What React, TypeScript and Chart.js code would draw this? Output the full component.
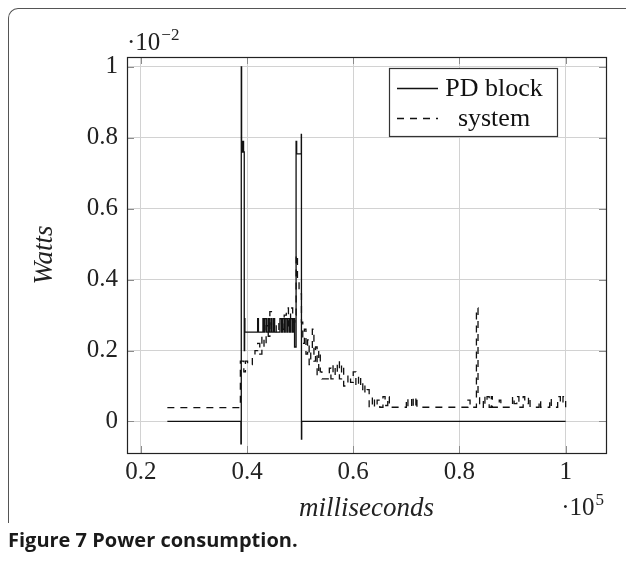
import React, { useEffect, useRef } from 'react';
import { Chart, registerables } from 'chart.js';

Chart.register(...registerables);

// x in units of 10^5 ms, y in units of 10^-2 W
const pdBlock: [number, number][] = [
  [0.25, 0], [0.3885, -0.063], [0.3892, 1.0], [0.3898, 0.79], [0.3905, 0.76], [0.3912, 0.79],
  [0.3918, 0.76], [0.3925, 0.79], [0.3935, 0.76], [0.3948, 0.2], [0.3955, 0.29], [0.396, 0.252],
  [0.42, 0.29], [0.4215, 0.252], [0.43, 0.29], [0.432, 0.252], [0.434, 0.29], [0.437, 0.252],
  [0.44, 0.29], [0.442, 0.252], [0.445, 0.29], [0.447, 0.252], [0.45, 0.29], [0.452, 0.252],
  [0.462, 0.29], [0.465, 0.252], [0.467, 0.29], [0.47, 0.252], [0.472, 0.29], [0.475, 0.252],
  [0.477, 0.29], [0.48, 0.252], [0.482, 0.29], [0.485, 0.252], [0.487, 0.29], [0.4895, 0.21],
  [0.4924, 0.79], [0.4935, 0.755], [0.5022, 0.81], [0.5025, -0.05], [0.503, 0], [1.0, 0],
];

const systemPower: [number, number][] = [
  [0.25, 0.039], [0.3875, 0.17], [0.394, 0.14], [0.397, 0.17], [0.401, 0.16], [0.41, 0.18],
  [0.415, 0.2], [0.42, 0.22], [0.424, 0.19], [0.428, 0.24], [0.432, 0.21], [0.436, 0.27],
  [0.44, 0.24], [0.443, 0.31], [0.446, 0.26], [0.45, 0.28], [0.455, 0.25], [0.46, 0.29],
  [0.465, 0.26], [0.47, 0.3], [0.474, 0.32], [0.478, 0.27], [0.482, 0.32], [0.486, 0.28],
  [0.49, 0.3], [0.4925, 0.47], [0.495, 0.4], [0.498, 0.36], [0.5025, 0.28], [0.505, 0.22],
  [0.508, 0.26], [0.511, 0.19], [0.514, 0.23], [0.517, 0.16], [0.52, 0.2], [0.523, 0.26],
  [0.526, 0.17], [0.529, 0.21], [0.532, 0.13], [0.535, 0.2], [0.538, 0.14], [0.541, 0.12],
  [0.555, 0.15], [0.558, 0.12], [0.562, 0.16], [0.566, 0.13], [0.57, 0.17], [0.574, 0.12],
  [0.578, 0.16], [0.582, 0.1], [0.59, 0.13], [0.595, 0.11], [0.6, 0.14], [0.605, 0.1],
  [0.61, 0.13], [0.614, 0.09], [0.618, 0.11], [0.622, 0.08], [0.626, 0.09], [0.63, 0.04],
  [0.636, 0.07], [0.64, 0.04], [0.645, 0.06], [0.65, 0.04], [0.656, 0.07], [0.66, 0.045],
  [0.665, 0.07], [0.668, 0.04], [0.7, 0.065], [0.703, 0.04], [0.71, 0.07], [0.713, 0.04],
  [0.718, 0.07], [0.72, 0.04], [0.816, 0.06], [0.82, 0.04], [0.832, 0.32], [0.835, 0.08],
  [0.838, 0.04], [0.845, 0.07], [0.848, 0.05], [0.852, 0.07], [0.856, 0.04], [0.86, 0.07],
  [0.862, 0.04], [0.875, 0.06], [0.878, 0.04], [0.9, 0.07], [0.903, 0.05], [0.908, 0.07],
  [0.912, 0.04], [0.92, 0.07], [0.923, 0.05], [0.93, 0.07], [0.933, 0.04], [0.95, 0.06],
  [0.953, 0.04], [0.97, 0.065], [0.973, 0.04], [0.985, 0.07], [0.99, 0.05], [0.995, 0.07],
  [1.0, 0.04],
];

const seriesLabels = ['PD block', 'system'];
const xTicks = [0.2, 0.4, 0.6, 0.8, 1];
const yTicks = [0, 0.2, 0.4, 0.6, 0.8, 1];
const xRange = [0.174, 1.076];
const yRange = [-0.089, 1.028];
const xTitle = 'milliseconds';
const yTitle = 'Watts';
const xExponent = '5';
const yExponent = '−2';
const captionLabel = 'Figure 7';
const captionText = 'Power consumption.';

const SERIF = '"Liberation Serif", "Times New Roman", serif';

const fmt = (v: number) => String(Number(v.toFixed(3)));

const decorPlugin = {
  id: 'decor',
  afterDraw(chart: any) {
    const { ctx, chartArea: a, scales } = chart;
    ctx.save();
    // inner tick marks
    ctx.strokeStyle = '#8c8c8c';
    ctx.lineWidth = 1;
    ctx.beginPath();
    yTicks.forEach((v) => {
      const py = Math.round(scales.y.getPixelForValue(v)) + 0.5;
      ctx.moveTo(a.left, py); ctx.lineTo(a.left + 7, py);
      ctx.moveTo(a.right - 7, py); ctx.lineTo(a.right, py);
    });
    xTicks.forEach((v) => {
      const px = Math.round(scales.x.getPixelForValue(v)) + 0.5;
      ctx.moveTo(px, a.bottom); ctx.lineTo(px, a.bottom - 7);
      ctx.moveTo(px, a.top); ctx.lineTo(px, a.top + 7);
    });
    ctx.stroke();
    // axis box
    ctx.strokeStyle = '#222';
    ctx.lineWidth = 1.2;
    ctx.strokeRect(Math.round(a.left) + 0.5, Math.round(a.top) + 0.5, Math.round(a.right - a.left), Math.round(a.bottom - a.top));

    // exponents
    ctx.fillStyle = '#222';
    ctx.textBaseline = 'alphabetic';
    ctx.textAlign = 'left';
    ctx.font = `25px ${SERIF}`;
    const base = '·10';
    let w = ctx.measureText(base).width;
    ctx.fillText(base, a.left, a.top - 7);
    ctx.font = `17px ${SERIF}`;
    ctx.fillText(yExponent, a.left + w + 1, a.top - 17);
    const ew = ctx.measureText(xExponent).width;
    ctx.font = `25px ${SERIF}`;
    w = ctx.measureText(base).width;
    const xr = a.right - 2;
    ctx.fillText(base, xr - ew - w - 1, a.bottom + 62);
    ctx.font = `17px ${SERIF}`;
    ctx.fillText(xExponent, xr - ew, a.bottom + 52);

    // legend
    const lx = 389.5, ly = 68.5, lw = 168, lh = 68;
    ctx.fillStyle = '#fff';
    ctx.fillRect(lx, ly, lw, lh);
    ctx.strokeStyle = '#333';
    ctx.lineWidth = 1.2;
    ctx.strokeRect(lx, ly, lw, lh);
    const rows = [88, 118];
    chart.data.datasets.forEach((ds: any, i: number) => {
      const y = rows[i] + 0.5;
      ctx.strokeStyle = '#111';
      ctx.lineWidth = ds.borderWidth;
      ctx.setLineDash(ds.borderDash || []);
      ctx.beginPath();
      ctx.moveTo(397, y); ctx.lineTo(438, y);
      ctx.stroke();
      ctx.setLineDash([]);
      ctx.fillStyle = '#111';
      ctx.font = `26px ${SERIF}`;
      ctx.textAlign = 'center';
      ctx.textBaseline = 'middle';
      ctx.fillText(ds.label, 494, rows[i] + 1);
    });
    ctx.restore();
  },
};

export default function App() {
  const ref = useRef<HTMLCanvasElement | null>(null);

  useEffect(() => {
    if (!ref.current) return;
    const chart = new Chart(ref.current, {
      type: 'line',
      data: {
        datasets: [
          {
            label: seriesLabels[0],
            data: pdBlock.map(([x, y]) => ({ x, y })),
            borderColor: '#111',
            borderWidth: 1.3,
            stepped: true,
            pointRadius: 0,
            fill: false,
          },
          {
            label: seriesLabels[1],
            data: systemPower.map(([x, y]) => ({ x, y })),
            borderColor: '#111',
            borderWidth: 1.3,
            borderDash: [7, 6],
            stepped: true,
            pointRadius: 0,
            fill: false,
          },
        ],
      },
      options: {
        animation: false,
        responsive: false,
        devicePixelRatio: 1,
        layout: { padding: { left: 10, top: 57, right: 20, bottom: 31 } },
        plugins: { legend: { display: false }, tooltip: { enabled: false } },
        scales: {
          x: {
            type: 'linear',
            min: xRange[0],
            max: xRange[1],
            afterBuildTicks: (s: any) => { s.ticks = xTicks.map((v) => ({ value: v })); },
            afterFit: (s: any) => { s.height = 80; s.paddingLeft = 0; s.paddingRight = 0; },
            grid: { color: '#d2d2d2', lineWidth: 1, drawTicks: false },
            border: { display: false },
            ticks: {
              padding: 4,
              color: '#222',
              font: { family: SERIF, size: 25 },
              callback: (v: any) => fmt(Number(v)),
              maxRotation: 0,
            },
            title: {
              display: true,
              text: xTitle,
              color: '#222',
              font: { family: SERIF, size: 27, style: 'italic' },
              padding: { top: 0, bottom: 8 },
            },
          },
          y: {
            type: 'linear',
            min: yRange[0],
            max: yRange[1],
            afterBuildTicks: (s: any) => { s.ticks = yTicks.map((v) => ({ value: v })); },
            afterFit: (s: any) => { s.width = 117; s.paddingTop = 0; s.paddingBottom = 0; },
            grid: { color: '#d2d2d2', lineWidth: 1, drawTicks: false },
            border: { display: false },
            ticks: {
              padding: 9,
              color: '#222',
              font: { family: SERIF, size: 25 },
              callback: (v: any) => fmt(Number(v)),
            },
            title: {
              display: true,
              text: yTitle,
              color: '#222',
              font: { family: SERIF, size: 27, style: 'italic' },
              padding: { top: 19, bottom: 0 },
            },
          },
        },
      },
      plugins: [decorPlugin],
    } as any);
    return () => chart.destroy();
  }, []);

  return (
    <div style={{ position: 'fixed', left: 0, top: 0, width: 626, height: 564, background: '#fff', overflow: 'hidden' }}>
      <div
        style={{
          position: 'absolute', left: 8, top: 8, width: 660, height: 514,
          borderTop: '1.5px solid #555', borderLeft: '1.5px solid #555', borderTopLeftRadius: 10,
        }}
      />
      <canvas ref={ref} width={626} height={564} style={{ position: 'absolute', left: 0, top: 0, width: 626, height: 564 }} />
      <div
        style={{
          position: 'absolute', left: 8, top: 528, fontFamily: '"Open Sans", "Noto Sans", sans-serif',
          fontWeight: 700, fontSize: 20, color: '#1a1a1a', whiteSpace: 'nowrap', lineHeight: '24px',
        }}
      >
        {captionLabel} {captionText}
      </div>
    </div>
  );
}
